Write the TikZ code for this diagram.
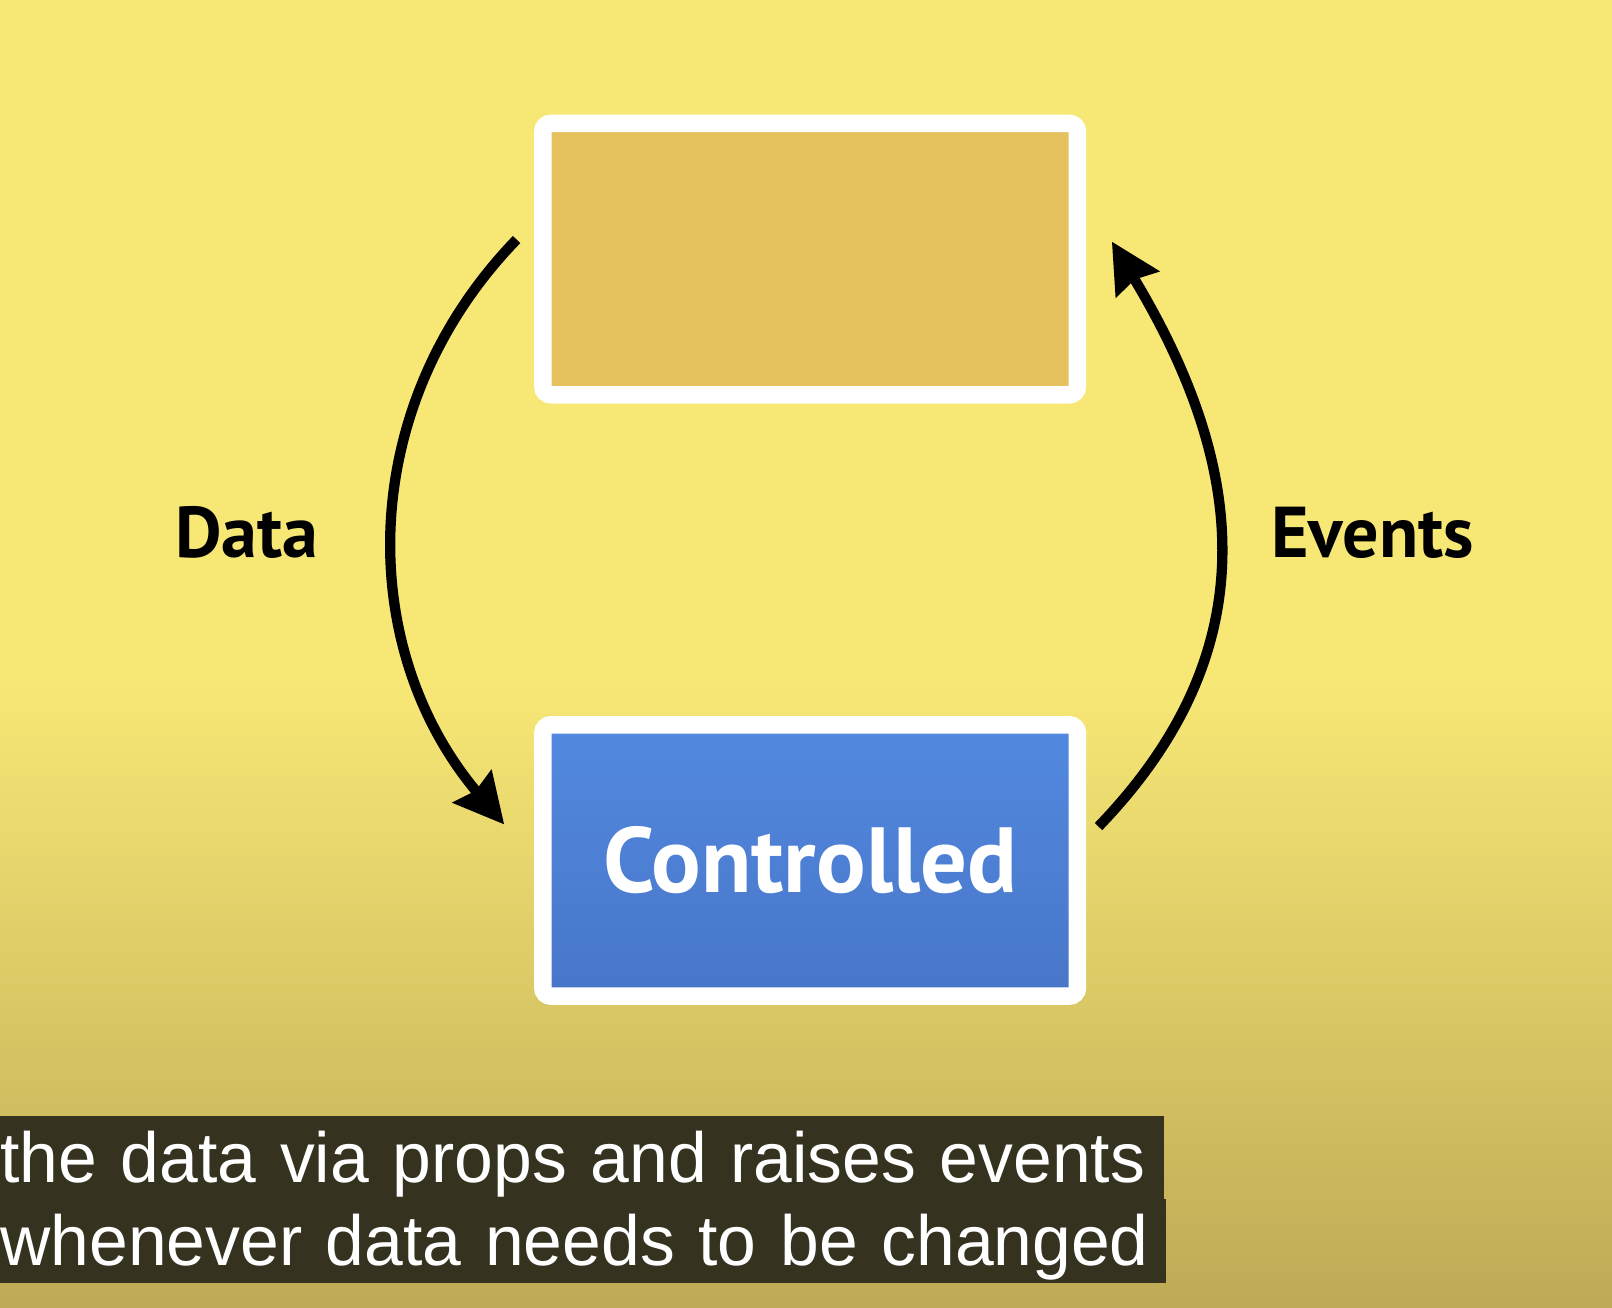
\documentclass[tikz,border=0pt]{standalone}
\usepackage{fontspec}
\setmainfont{Liberation Sans}[FakeStretch=0.982]
\newfontfamily\boxfont{PT Sans}
\usepackage{tikz}
\usetikzlibrary{arrows.meta, positioning}
\definecolor{bgtop}{RGB}{247,232,118}
\definecolor{bgbottom}{RGB}{190,170,86}
\definecolor{ochre}{RGB}{230,194,95}
\definecolor{bluetop}{RGB}{82,137,224}
\definecolor{bluebottom}{RGB}{72,118,200}
\definecolor{captionbg}{RGB}{53,50,32}

\begin{document}
\begin{tikzpicture}[x=0.5pt, y=-0.5pt,
		box/.style={draw=white, line width=8.5pt, rounded corners=4pt, minimum width=260pt, minimum height=132pt, inner sep=0pt},
		flow/.style={black, line width=5pt, -{Stealth[length=24pt, width=24pt, inset=2.5pt]}},
		sidetext/.style={font=\boxfont\bfseries\fontsize{35}{40}\selectfont, text=black},
		subline/.style={fill=captionbg, text=white, anchor=north west, inner sep=0pt, text height=32.5pt, text depth=8.5pt, align=left, font=\fontsize{34.5}{40}\selectfont}]
		\useasboundingbox (0,0) rectangle (1568,1272);
		%background:
		\fill[bgtop] (0,0) rectangle (1568,660);
		\shade[top color=bgtop, bottom color=bgbottom] (0,659) rectangle (1568,1272);

		%boxes
		\node[box, fill=ochre] (parent) at (788,252) {};
		\node[box, top color=bluetop, bottom color=bluebottom, text=white, font=\boxfont\bfseries\fontsize{45}{50}\selectfont] (controlled) at (788,837) {Controlled};

		\node[sidetext] (data) at (240,518) {Data};
		\node[sidetext] (events) at (1335,518) {Events};

		%arrows
		\coordinate (dstart) at ([xshift=-8.5pt, yshift=9.5pt]parent.west);
		\coordinate (dend) at ([xshift=-14.5pt, yshift=17.5pt]controlled.west);
		\coordinate (estart) at ([xshift=6pt, yshift=16.5pt]controlled.east);
		\coordinate (eend) at ([xshift=12.5pt, yshift=8.5pt]parent.east);
		\draw[flow] (dstart) .. controls +(-157,162) and +(-145,-172) .. (dend);
		\draw[flow] (estart) .. controls +(167,-173) and +(130,216) .. (eend);

		%subtitles
		\node[subline, text width=566pt] (line1) at (0,1085) {\mbox{the data via props and raises events}};
		\node[subline, text width=567pt] (line2) at (0,1166) {\mbox{whenever data needs to be changed}};
\end{tikzpicture}
\end{document}
